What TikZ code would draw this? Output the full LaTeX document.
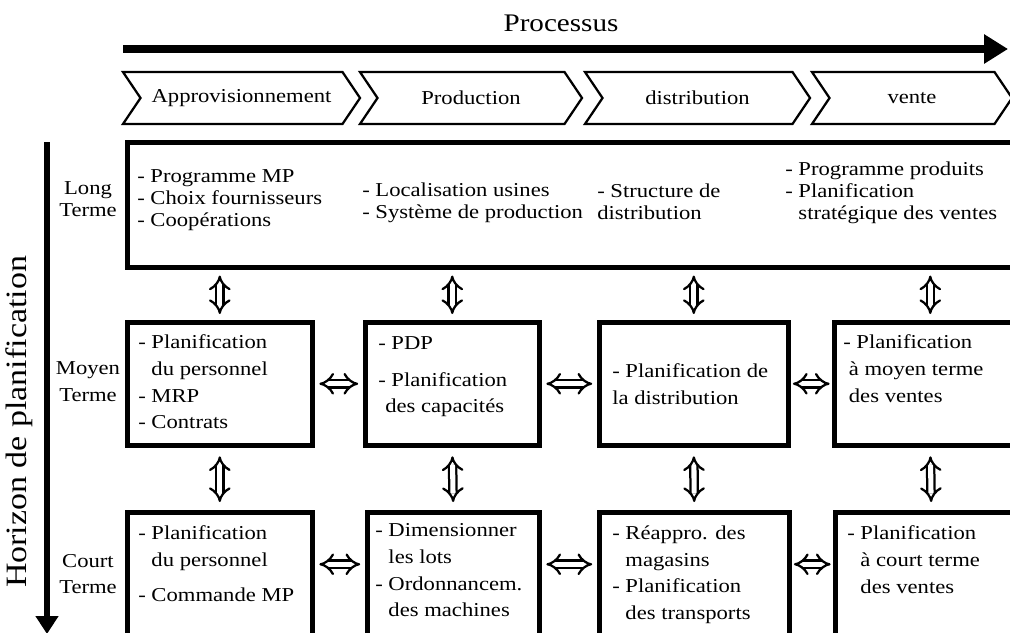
\documentclass[tikz,border=0pt]{standalone}
\usepackage{fontspec}
\setmainfont{Liberation Serif}[FakeStretch=1.15]
\usetikzlibrary{shapes.symbols,arrows.meta,positioning,calc}
\newcommand{\ind}{\hphantom{- }}

\begin{document}
\begin{tikzpicture}[x=0.025cm, y=-0.025cm,
    every node/.style={font=\fontsize{14}{19}\selectfont},
    chev/.style={draw, line width=1.6pt, signal, signal from=west, signal to=east,
        signal pointer angle=112, minimum height=1.3cm, inner xsep=0pt},
    bigbox/.style={draw, line width=3.2pt, anchor=north west, inner sep=0pt},
    txt/.style={anchor=north west, align=left, inner sep=0pt},
    lbl/.style={align=center, inner sep=0pt},
    dbl/.style={double, double distance=3.6pt, line width=1.6pt, {Implies}-{Implies},
        shorten >=0.17cm, shorten <=0.17cm}]
    \useasboundingbox (0,0) rectangle (1010,632);
    \clip (0,0) rectangle (1010,632);

    % Processus
    \node (proc) at (561,23) {\fontsize{18}{20}\selectfont Processus};
    \coordinate (pa) at (123,49);
    \coordinate (pb) at (1008,49);
    \draw[line width=5pt, -{Triangle[length=0.6cm,width=0.7cm]}] (pa) -- (pb);

    \node[chev, minimum width=5.925cm] (appro) at (241.5,98) {Approvisionnement};
    \node[chev, minimum width=5.55cm] (prod) at (471,98) {Production};
    \node[chev, minimum width=5.625cm] (distr) at (697.5,98) {distribution};
    \node[chev, minimum width=5cm] (vente) at (912,98) {vente};

    % Horizon de planification
    \coordinate (ha) at (47,142);
    \coordinate (hb) at (47,634);
    \draw[line width=4pt, -{Triangle[length=0.45cm,width=0.55cm]}] (ha) -- (hb);
    \node[rotate=90] (hor) at (19,422) {\fontsize{21}{24}\selectfont Horizon de planification};

    \node[lbl, font=\fontsize{14}{16}\selectfont] (long) at (88,199) {Long\\Terme};
    \node[lbl] (moyen) at (88,382) {Moyen\\Terme};
    \node[lbl] (court) at (88,574) {Court\\Terme};

    % Long terme
    \node[bigbox, minimum width=22.375cm, minimum height=3.125cm] (lt) at (125,140) {};
    \begin{scope}[every node/.style={font=\fontsize{14}{15.6}\selectfont}]
    \node[txt] (lt1) at (137,169.5) {- Programme MP\\- Choix fournisseurs\\- Coopérations};
    \node[txt] (lt2) at (362,182.5) {- Localisation usines\\- Système de production};
    \node[txt] (lt3) at (597,183.5) {- Structure de\\distribution};
    \node[txt] (lt4) at (785,161.5) {- Programme produits\\- Planification\\\ind stratégique des ventes};
    \end{scope}

    % Moyen terme
    \node[bigbox, minimum width=4.625cm, minimum height=3.075cm] (m1) at (125,320) {};
    \node[bigbox, minimum width=4.35cm, minimum height=3.075cm] (m2) at (363,320) {};
    \node[bigbox, minimum width=4.725cm, minimum height=3.075cm] (m3) at (597,320) {};
    \node[bigbox, minimum width=4.8cm, minimum height=3.075cm] (m4) at (832,320) {};

    \node[txt] (m1t) at (138,334.5) {- Planification\\\ind du personnel\\- MRP\\- Contrats};
    \node[txt] (m2t) at (378,336.5) {- PDP\\[7pt]- Planification\\\hspace*{5pt}des capacités};
    \node[txt] (m3t) at (612,363.5) {- Planification de\\la distribution};
    \node[txt] (m4t) at (843,334.5) {- Planification\\\hspace*{4pt}à moyen terme\\\hspace*{4pt}des ventes};

    % Court terme
    \node[bigbox, minimum width=4.625cm, minimum height=3.5cm] (c1) at (125,510) {};
    \node[bigbox, minimum width=4.3cm, minimum height=3.5cm] (c2) at (365,510) {};
    \node[bigbox, minimum width=4.75cm, minimum height=3.5cm] (c3) at (597,510) {};
    \node[bigbox, minimum width=4.8cm, minimum height=3.5cm] (c4) at (833,510) {};

    \node[txt] (c1t) at (138,525.5) {- Planification\\\ind du personnel\\[6pt]- Commande MP};
    \node[txt] (c2t) at (375,523.5) {- Dimensionner\\\ind les lots\\- Ordonnancem.\\\ind des machines};
    \node[txt] (c3t) at (612,525.5) {- Réappro. des\\\ind magasins\\- Planification\\\ind des transports};
    \node[txt] (c4t) at (847,525.5) {- Planification\\\ind à court terme\\\ind des ventes};

    % vertical links
    \foreach \i in {1,2,3,4}{
        \draw[dbl, shorten >=0.15cm, shorten <=0.15cm] (m\i.north |- lt.south) -- (m\i.north);
        \draw[dbl, shorten >=0.2cm, shorten <=0.22cm] (m\i.south) -- (c\i.north);
    }
    % horizontal links
    \draw[dbl, shorten >=0.12cm, shorten <=0.12cm] (m1.east) -- (m2.west);
    \draw[dbl, shorten >=0.12cm, shorten <=0.12cm] (m2.east) -- (m3.west);
    \draw[dbl, shorten >=0.06cm, shorten <=0.06cm] (m3.east) -- (m4.west);
    \draw[dbl, shorten >=0.12cm, shorten <=0.12cm] ([yshift=0.45cm]c1.east) -- ([yshift=0.45cm]c2.west);
    \draw[dbl, shorten >=0.12cm, shorten <=0.12cm] ([yshift=0.45cm]c2.east) -- ([yshift=0.45cm]c3.west);
    \draw[dbl, shorten >=0.06cm, shorten <=0.06cm] ([yshift=0.45cm]c3.east) -- ([yshift=0.45cm]c4.west);
\end{tikzpicture}
\end{document}
